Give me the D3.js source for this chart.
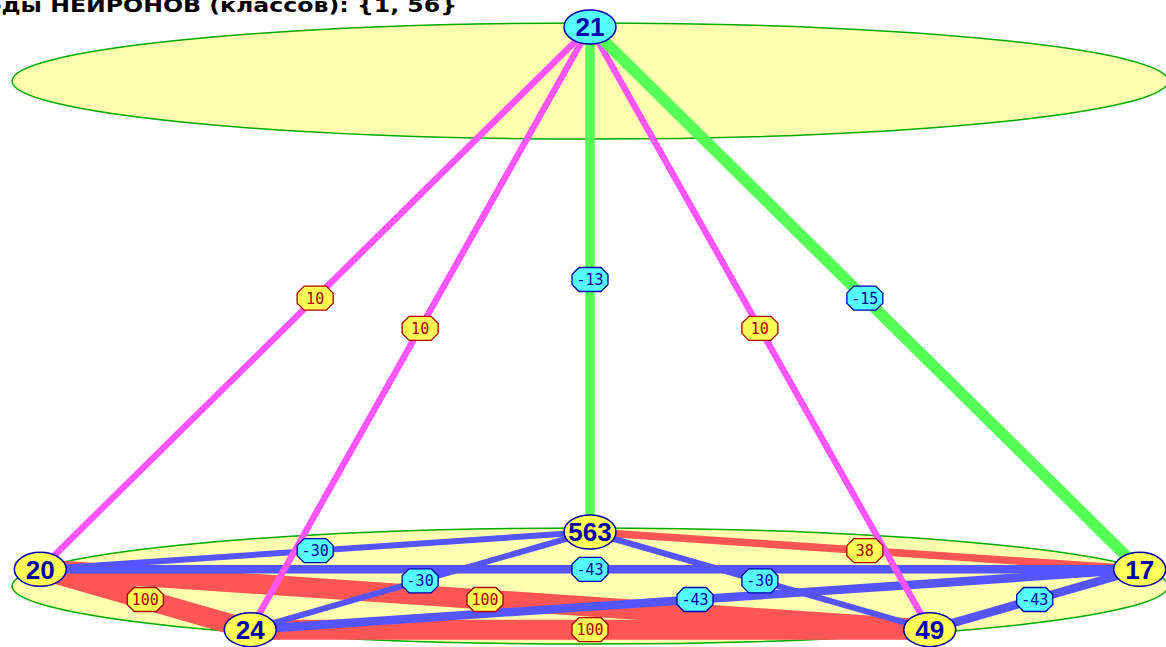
<!DOCTYPE html>
<html>
<head>
<meta charset="utf-8">
<script src="https://cdn.jsdelivr.net/npm/d3@7"></script>
<style>
  body { margin: 0; background: #fff; }
  svg { display: block; }
</style>
</head>
<body>
<svg width="1166" height="647"></svg>
<script>
// neurons of the two layers and the links between them
const titleText = 'Коды НЕЙРОНОВ (классов): {1, 56}'
const topNeurons = ['21']
const bottomNeurons = ['563', '17', '49', '24', '20']   // clockwise from the top of the ring
const linkFrom = ['21', '21', '21', '21', '21', '20', '20', '24', '563', '20', '20', '563', '563', '24', '49']
const linkTo = ['20', '24', '563', '49', '17', '24', '49', '49', '17', '563', '17', '24', '49', '17', '17']
const linkWeight = [10, 10, -13, 10, -15, 100, 100, 100, 38, -30, -43, -30, -30, -43, -43]

let svg = d3.select('svg')
    width = +svg.attr('width')
    height = +svg.attr('height')

// ring geometry (both layers share it, only the vertical centre differs)
let cx = 590, ringRx = 578, ringRy = 58, nodeRy = 54
let layerY = [81, 586]

let xScale = d3.scaleLinear().domain([-1, 1]).range([cx - ringRx, cx + ringRx])
let yScales = layerY.map(cy => d3.scaleLinear().domain([-1, 1]).range([cy - nodeRy, cy + nodeRy]))

//Positions of the nodes: evenly spaced on each ring, first one on top
let nodes = {}
;[topNeurons, bottomNeurons].forEach((layer, li) => {
    layer.forEach((name, i) => {
        let a = (-90 + i * 360 / layer.length) * Math.PI / 180
        nodes[name] = {name: name, layer: li, x: xScale(Math.cos(a)), y: yScales[li](Math.sin(a))}
    })
})

let links = linkWeight.map((w, i) => {
    let s = nodes[linkFrom[i]], t = nodes[linkTo[i]]
    return {s: s, t: t, w: w, cross: s.layer != t.layer}
})

// stroke widths: one scale for the links between layers, one inside the lower layer
let crossWidth = d3.scaleLinear().domain([10, 15]).range([6.5, 11.5])
let innerWidth = d3.scaleLinear().domain([30, 100]).range([6, 20])

let linkColor = d => d.cross ? (d.w > 0 ? '#ff55ff' : '#55ff55') : (d.w > 0 ? '#ff5555' : '#5555ff')

//The two layer ellipses
svg.selectAll('ellipse.layer')
    .data(layerY)
    .enter()
    .append('ellipse')
    .attr('class', 'layer')
    .attr('cx', cx)
    .attr('cy', d => d)
    .attr('rx', ringRx)
    .attr('ry', ringRy)
    .attr('fill', '#ffffb0')
    .attr('stroke', '#00aa00')
    .attr('stroke-width', 1.5)

//Links: red ones first, then blue, then the links to the upper layer
let order = d => d.cross ? 2 : (d.w > 0 ? 0 : 1)
let sorted = links.slice().sort((a, b) => order(a) - order(b))

svg.selectAll('line.link')
    .data(sorted)
    .enter()
    .append('line')
    .attr('class', 'link')
    .attr('x1', d => d.s.x)
    .attr('y1', d => d.s.y)
    .attr('x2', d => d.t.x)
    .attr('y2', d => d.t.y)
    .attr('stroke', linkColor)
    .attr('stroke-width', d => d.cross ? crossWidth(Math.abs(d.w)) : innerWidth(Math.abs(d.w)))

//Weight labels in small octagons at the middle of each link
let lw = 36, lh = 24, c = 7
let octagon = [[-lw/2 + c, -lh/2], [lw/2 - c, -lh/2], [lw/2, -lh/2 + c], [lw/2, lh/2 - c],
               [lw/2 - c, lh/2], [-lw/2 + c, lh/2], [-lw/2, lh/2 - c], [-lw/2, -lh/2 + c]]

let labels = svg.selectAll('g.wlabel')
    .data(links)
    .enter()
    .append('g')
    .attr('class', 'wlabel')
    .attr('transform', d => 'translate(' + ((d.s.x + d.t.x) / 2) + ',' + ((d.s.y + d.t.y) / 2) + ')')
labels.append('polygon')
    .attr('points', octagon.map(p => p.join(',')).join(' '))
    .attr('fill', d => d.w > 0 ? '#ffff55' : '#55ffff')
    .attr('stroke', d => d.w > 0 ? '#aa0000' : '#0000aa')
    .attr('stroke-width', 1.3)
labels.append('text')
    .attr('text-anchor', 'middle')
    .attr('dy', '0.36em')
    .attr('font-family', 'DejaVu Sans Mono')
    .attr('font-size', 15)
    .attr('fill', d => d.w > 0 ? '#aa0000' : '#0000aa')
    .text(d => d.w)

//Neurons
let nodeG = svg.selectAll('g.node')
    .data(Object.values(nodes))
    .enter()
    .append('g')
    .attr('class', 'node')
    .attr('transform', d => 'translate(' + d.x + ',' + d.y + ')')
nodeG.append('ellipse')
    .attr('rx', 26)
    .attr('ry', 17)
    .attr('fill', d => d.layer == 0 ? '#55ffff' : '#ffff55')
    .attr('stroke', '#0000aa')
    .attr('stroke-width', 1.5)
nodeG.append('text')
    .attr('text-anchor', 'middle')
    .attr('dy', '0.36em')
    .attr('font-family', 'Liberation Sans')
    .attr('font-weight', 'bold')
    .attr('font-size', 26)
    .attr('fill', '#0000aa')
    .text(d => d.name)

//Title, cut by the left and top edges like in the original window
svg.append('text')
    .attr('x', -34)
    .attr('y', 12)
    .attr('font-family', 'DejaVu Sans')
    .attr('font-weight', 'bold')
    .attr('font-size', 20)
    .attr('textLength', 491)
    .attr('lengthAdjust', 'spacingAndGlyphs')
    .attr('fill', '#000')
    .text(titleText)
</script>
</body>
</html>
